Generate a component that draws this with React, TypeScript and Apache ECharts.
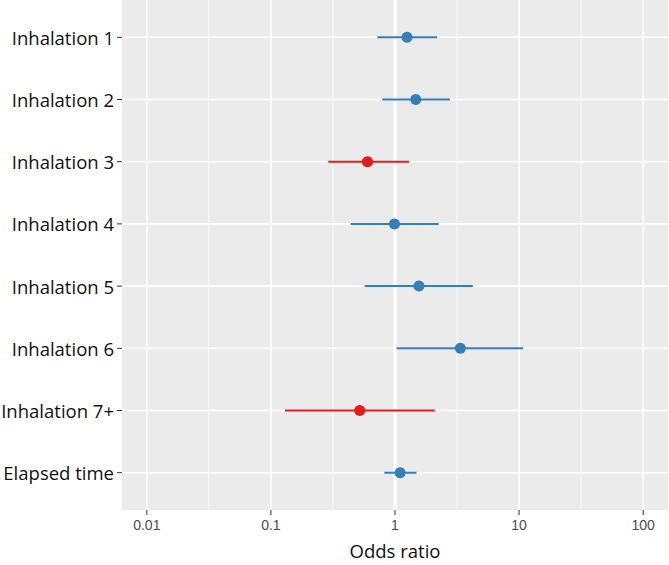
import React, { useEffect, useRef } from 'react';
import * as echarts from 'echarts';

// Predictors, top to bottom
const predictors = [
  'Inhalation 1',
  'Inhalation 2',
  'Inhalation 3',
  'Inhalation 4',
  'Inhalation 5',
  'Inhalation 6',
  'Inhalation 7+',
  'Elapsed time',
];

// Odds ratios with 95% confidence limits
const oddsRatio = [1.25, 1.47, 0.6, 0.99, 1.56, 3.36, 0.52, 1.1];
const ciLower = [0.72, 0.79, 0.29, 0.44, 0.57, 1.03, 0.13, 0.82];
const ciUpper = [2.19, 2.77, 1.3, 2.25, 4.24, 10.8, 2.09, 1.49];
const effectGroup = ['a', 'a', 'b', 'a', 'a', 'a', 'b', 'a'];

// Log-scale breaks
const majorBreaks = [0.01, 0.1, 1, 10, 100];
const tickLabels = ['0.01', '0.1', '1', '10', '100'];
const minorBreaks = [0.0316, 0.316, 3.16, 31.6];
const referenceOdds = 1;

const groupColors: Record<string, string> = { a: '#377EB8', b: '#E41A1C' };

const PANEL_BG = '#EBEBEB';
const LABEL_FONT = '"Open Sans", "Noto Sans", sans-serif';
const TICK_FONT = '"Liberation Sans", Arial, sans-serif';

export default function App() {
  const ref = useRef<HTMLDivElement>(null);

  useEffect(() => {
    if (!ref.current) return;
    const chart = echarts.init(ref.current, undefined, { renderer: 'svg' });

    const rows = predictors.map((_, i) => i + 1);

    const option: any = {
      animation: false,
      backgroundColor: '#ffffff',
      grid: {
        left: 122,
        right: 1,
        top: 0,
        bottom: 55,
        containLabel: false,
        outerBoundsMode: 'none',
        show: true,
        backgroundColor: PANEL_BG,
        borderWidth: 0,
      },
      xAxis: {
        type: 'log',
        logBase: 10,
        min: Math.pow(10, -2.2),
        max: Math.pow(10, 2.2),
        axisLine: { show: false },
        axisTick: { show: false },
        axisLabel: { show: false },
        splitLine: { show: false },
        name: 'Odds ratio',
        nameLocation: 'middle',
        nameGap: 31,
        nameTextStyle: {
          fontFamily: LABEL_FONT,
          fontSize: 18.5,
          color: '#111111',
        },
      },
      yAxis: {
        type: 'value',
        inverse: true,
        min: 0.4,
        max: predictors.length + 0.6,
        axisLine: { show: false },
        axisTick: { show: false },
        axisLabel: { show: false },
        splitLine: { show: false },
      },
      series: [
        // minor vertical grid lines
        {
          type: 'custom',
          clip: false,
          silent: true,
          z: 1,
          data: minorBreaks.map((v) => [v]),
          renderItem: (params: any, api: any) => {
            const cs = params.coordSys;
            const x = api.coord([api.value(0), 1])[0];
            return {
              type: 'line',
              shape: { x1: x, y1: cs.y, x2: x, y2: cs.y + cs.height },
              style: { stroke: '#ffffff', lineWidth: 0.8 },
            };
          },
        },
        // horizontal grid lines, ticks and predictor labels
        {
          type: 'custom',
          clip: false,
          silent: true,
          z: 2,
          data: rows.map((r) => [r]),
          renderItem: (params: any, api: any) => {
            const cs = params.coordSys;
            const y = api.coord([1, api.value(0)])[1];
            return {
              type: 'group',
              children: [
                {
                  type: 'line',
                  shape: { x1: cs.x, y1: y, x2: cs.x + cs.width, y2: y },
                  style: { stroke: '#ffffff', lineWidth: 1.6 },
                },
                {
                  type: 'line',
                  shape: { x1: cs.x - 5, y1: y, x2: cs.x, y2: y },
                  style: { stroke: '#333333', lineWidth: 1 },
                },
                {
                  type: 'text',
                  x: cs.x - 8,
                  y: y,
                  style: {
                    text: predictors[params.dataIndex],
                    align: 'right',
                    verticalAlign: 'middle',
                    fontFamily: LABEL_FONT,
                    fontSize: 18.5,
                    fill: '#111111',
                  },
                },
              ],
            };
          },
        },
        // major vertical grid lines, ticks and labels
        {
          type: 'custom',
          clip: false,
          silent: true,
          z: 3,
          data: majorBreaks.map((v) => [v]),
          renderItem: (params: any, api: any) => {
            const cs = params.coordSys;
            const x = api.coord([api.value(0), 1])[0];
            const bottom = cs.y + cs.height;
            return {
              type: 'group',
              children: [
                {
                  type: 'line',
                  shape: { x1: x, y1: cs.y, x2: x, y2: bottom },
                  style: { stroke: '#ffffff', lineWidth: 1.6 },
                },
                {
                  type: 'line',
                  shape: { x1: x, y1: bottom, x2: x, y2: bottom + 5 },
                  style: { stroke: '#333333', lineWidth: 1 },
                },
                {
                  type: 'text',
                  x: x,
                  y: bottom + 15,
                  style: {
                    text: tickLabels[params.dataIndex],
                    align: 'center',
                    verticalAlign: 'middle',
                    fontFamily: TICK_FONT,
                    fontSize: 14,
                    fill: '#4D4D4D',
                  },
                },
              ],
            };
          },
        },
        // reference line at odds ratio = 1
        {
          type: 'custom',
          clip: false,
          silent: true,
          z: 4,
          data: [[referenceOdds]],
          renderItem: (params: any, api: any) => {
            const cs = params.coordSys;
            const x = api.coord([api.value(0), 1])[0];
            return {
              type: 'line',
              shape: { x1: x, y1: cs.y, x2: x, y2: cs.y + cs.height },
              style: { stroke: '#ffffff', lineWidth: 3.2 },
            };
          },
        },
        // confidence intervals
        {
          type: 'custom',
          silent: true,
          z: 5,
          data: rows.map((r, i) => [ciLower[i], ciUpper[i], r]),
          renderItem: (params: any, api: any) => {
            const p1 = api.coord([api.value(0), api.value(2)]);
            const p2 = api.coord([api.value(1), api.value(2)]);
            return {
              type: 'line',
              shape: { x1: p1[0], y1: p1[1], x2: p2[0], y2: p2[1] },
              style: {
                stroke: groupColors[effectGroup[params.dataIndex]],
                lineWidth: 2,
              },
            };
          },
        },
        // point estimates
        {
          type: 'scatter',
          z: 6,
          symbol: 'circle',
          symbolSize: 11,
          itemStyle: { opacity: 1 },
          data: rows.map((r, i) => ({
            value: [oddsRatio[i], r],
            itemStyle: { color: groupColors[effectGroup[i]], opacity: 1 },
          })),
        },
      ],
    };

    chart.setOption(option);
    return () => chart.dispose();
  }, []);

  return (
    <div
      ref={ref}
      style={{ position: 'fixed', left: 0, top: 0, width: 669, height: 565 }}
    />
  );
}
